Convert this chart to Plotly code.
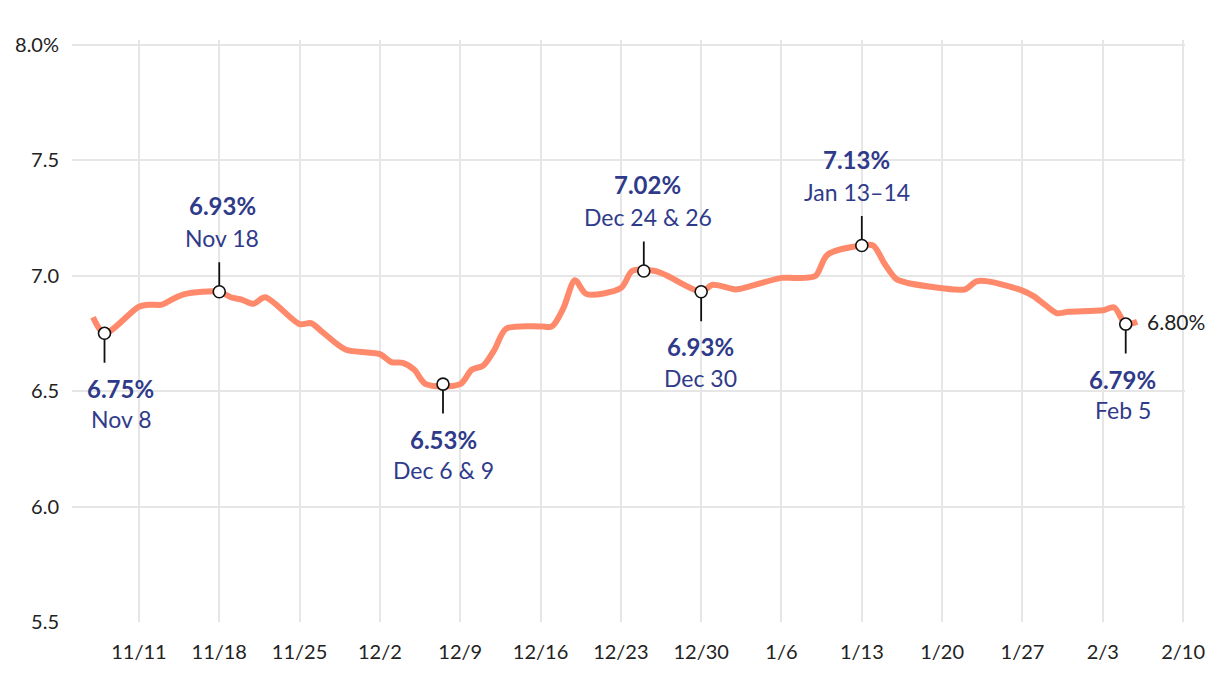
import plotly.graph_objects as go

# ---- data ----
dates = ["2024-11-07","2024-11-08","2024-11-11","2024-11-12","2024-11-13","2024-11-14","2024-11-15",
         "2024-11-18","2024-11-19","2024-11-20","2024-11-21","2024-11-22","2024-11-25","2024-11-26",
         "2024-11-27","2024-11-29","2024-12-02","2024-12-03","2024-12-04","2024-12-05","2024-12-06",
         "2024-12-09","2024-12-10","2024-12-11","2024-12-12","2024-12-13","2024-12-16","2024-12-17",
         "2024-12-18","2024-12-19","2024-12-20","2024-12-23","2024-12-24","2024-12-26","2024-12-27",
         "2024-12-30","2024-12-31","2025-01-02","2025-01-03","2025-01-06","2025-01-07","2025-01-08",
         "2025-01-09","2025-01-10","2025-01-13","2025-01-14","2025-01-15","2025-01-16","2025-01-17",
         "2025-01-21","2025-01-22","2025-01-23","2025-01-24","2025-01-27","2025-01-28","2025-01-29",
         "2025-01-30","2025-01-31","2025-02-03","2025-02-04","2025-02-05","2025-02-06"]
rates = [6.82, 6.75, 6.865, 6.874, 6.874, 6.90, 6.92,
         6.93, 6.906, 6.895, 6.878, 6.906, 6.79, 6.794,
         6.755, 6.68, 6.66, 6.625, 6.622, 6.592, 6.53,
         6.53, 6.592, 6.61, 6.68, 6.77, 6.78, 6.78,
         6.86, 6.98, 6.92, 6.946, 7.02, 7.02, 7.00,
         6.93, 6.96, 6.94, 6.95, 6.99, 6.99, 6.99,
         7.00, 7.09, 7.13, 7.13, 7.05, 6.985, 6.968,
         6.94, 6.94, 6.975, 6.975, 6.935, 6.91, 6.872,
         6.837, 6.843, 6.85, 6.862, 6.79, 6.80]

callout_dates = ["2024-11-08", "2024-11-18", "2024-12-07 12:00", "2024-12-25", "2024-12-30", "2025-01-13", "2025-02-05"]
callout_values = [6.75, 6.93, 6.53, 7.02, 6.93, 7.13, 6.79]
callout_value_text = ["6.75%", "6.93%", "6.53%", "7.02%", "6.93%", "7.13%", "6.79%"]
callout_date_text = ["Nov 8", "Nov 18", "Dec 6 & 9", "Dec 24 & 26", "Dec 30", "Jan 13–14", "Feb 5"]
callout_above = [False, True, False, True, False, True, False]

x_tick_vals = ["2024-11-11","2024-11-18","2024-11-25","2024-12-02","2024-12-09","2024-12-16","2024-12-23",
               "2024-12-30","2025-01-06","2025-01-13","2025-01-20","2025-01-27","2025-02-03","2025-02-10"]
x_tick_text = ["11/11","11/18","11/25","12/2","12/9","12/16","12/23","12/30","1/6","1/13","1/20","1/27","2/3","2/10"]
y_tick_vals = [5.5, 6.0, 6.5, 7.0, 7.5, 8.0]
y_tick_text = ["5.5", "6.0", "6.5", "7.0", "7.5", "8.0%"]

FONT = "Lato"
LABEL_COLOR = "#2f3b8a"
LINE_COLOR = "#ff8a6b"

fig = go.Figure()
fig.add_trace(go.Scatter(x=dates, y=rates, mode="lines",
                         line=dict(color=LINE_COLOR, width=6, shape="spline", smoothing=0.8),
                         hoverinfo="skip", showlegend=False))
fig.add_trace(go.Scatter(x=callout_dates, y=callout_values, mode="markers",
                         marker=dict(symbol="circle", size=12, color="white",
                                     line=dict(color="#111111", width=1.6)),
                         hoverinfo="skip", showlegend=False))

xshifts = [16, 3, 0, 4, -1, -5, -3]
annotations = []
for xd, v, vt, dt, above, xs in zip(callout_dates, callout_values, callout_value_text,
                                     callout_date_text, callout_above, xshifts):
    sign = -1 if above else 1
    annotations.append(dict(x=xd, y=v, xref="x", yref="y", text="", showarrow=True,
                            ax=0, ay=sign * 31, arrowhead=0, arrowwidth=1.8,
                            arrowcolor="#111111", standoff=6))
    if above:
        vshift, dshift = 86, 54
    else:
        vshift, dshift = -55, -86
    annotations.append(dict(x=xd, y=v, xref="x", yref="y", text="<b>" + vt + "</b>",
                            showarrow=False, xanchor="center", yanchor="middle",
                            xshift=xs, yshift=vshift,
                            font=dict(family=FONT, size=24, color=LABEL_COLOR)))
    annotations.append(dict(x=xd, y=v, xref="x", yref="y", text=dt,
                            showarrow=False, xanchor="center", yanchor="middle",
                            xshift=xs, yshift=dshift,
                            font=dict(family=FONT, size=23, color=LABEL_COLOR)))

annotations.append(dict(x=dates[-1], y=rates[-1], xref="x", yref="y",
                        text=f"{rates[-1]:.2f}%", showarrow=False,
                        xanchor="left", yanchor="middle", xshift=8,
                        font=dict(family=FONT, size=21, color="#222222")))

# page body has an 8px margin, so the figure is sized/margined to place the plot area
fig.update_layout(
    width=1212, height=666,
    margin=dict(l=64, r=35, t=32, b=52),
    paper_bgcolor="white", plot_bgcolor="white",
    font=dict(family=FONT, size=20, color="#222222"),
    showlegend=False,
    annotations=annotations,
    xaxis=dict(type="date", range=["2024-11-05 04:00", "2025-02-10 04:00"],
               tickvals=x_tick_vals, ticktext=x_tick_text,
               showgrid=True, gridcolor="#e6e6e6", gridwidth=2,
               zeroline=False, showline=False, automargin=False,
               ticks="outside", ticklen=12, tickcolor="rgba(0,0,0,0)",
               tickfont=dict(family=FONT, size=20, color="#222222")),
    yaxis=dict(range=[5.5, 8.02], tickvals=y_tick_vals, ticktext=y_tick_text,
               showgrid=True, gridcolor="#e6e6e6", gridwidth=2,
               zeroline=False, showline=False, automargin=False,
               ticklabelstandoff=12,
               tickfont=dict(family=FONT, size=20, color="#222222")),
)

fig.write_html("out.html")
